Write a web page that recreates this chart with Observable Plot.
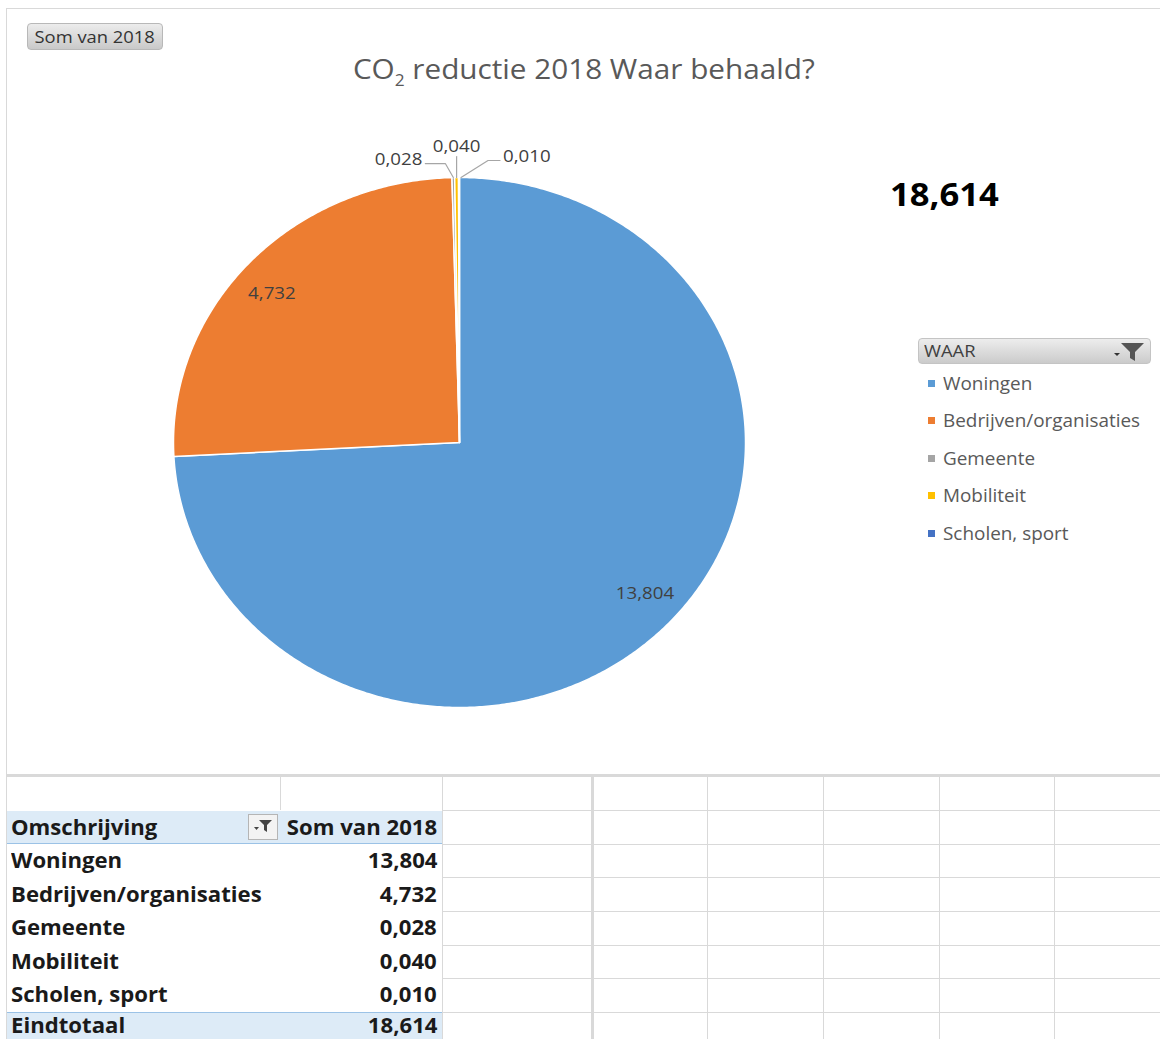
<!DOCTYPE html>
<html><head><meta charset="utf-8">
<script src="https://cdn.jsdelivr.net/npm/d3@7"></script>
<script src="https://cdn.jsdelivr.net/npm/@observablehq/plot@0.6"></script>
<style>
body{margin:0;background:#fff;font-family:"Open Sans",sans-serif;}
#wrap{position:relative;width:1160px;height:1039px;overflow:hidden;background:#fff}
#frame{position:absolute;left:6px;top:8px;width:1160px;height:769px;border-top:1px solid #d9d9d9;border-left:1px solid #d9d9d9;border-bottom:3px solid #d9d9d9;box-sizing:border-box}
#chart{position:absolute;left:0;top:0}
.sx{display:inline-block;transform:scaleX(1.08);transform-origin:left center}
.sxr{display:inline-block;transform:scaleX(1.08);transform-origin:right center}
.sxc{display:inline-block;transform:scaleX(1.08);transform-origin:center center}
#somBtn{position:absolute;left:27px;top:23px;width:136px;height:27px;box-sizing:border-box;border:1px solid #b8b8b8;border-radius:4px;background:linear-gradient(#ececec,#c9c9c9);color:#333;font-size:17px;line-height:25px;text-align:center;}
#title{position:absolute;left:0;width:1168px;top:50px;text-align:center;color:#595959;font-size:27.5px;}
#title sub{font-size:16px;vertical-align:-7px;line-height:0}
#total{position:absolute;left:890px;top:172px;font-size:32px;font-weight:bold;color:#000;}
#fieldBtn{position:absolute;left:918px;top:338px;width:233px;height:26px;box-sizing:border-box;border:1px solid #c4c4c4;border-radius:4px;background:linear-gradient(#ededed,#cbcbcb);color:#404040;font-size:17px;line-height:24px;padding-left:5px}
#legend .item{position:absolute;left:928px;font-size:17.5px;color:#595959;line-height:20px;white-space:nowrap}
#legend .sw{display:inline-block;width:7px;height:7px;margin-right:8px;vertical-align:3px}
.hl{position:absolute;height:1px;background:#d9d9d9}
.vl{position:absolute;width:1px;background:#d9d9d9}
.cell{position:absolute;font-weight:bold;color:#1a1a1a;font-size:20.5px;white-space:nowrap;line-height:33px}
</style></head><body>
<div id="wrap">
 <div id="frame"></div>
 <div id="chart"></div>
 <div id="somBtn"><span class="sxc">Som van 2018</span></div>
 <div id="title"><span class="sxc">CO<sub>2</sub> reductie 2018 Waar behaald?</span></div>
 <div id="total"></div>
 <div id="fieldBtn"><span class="sx" id="fieldName"></span><svg style="position:absolute;right:4px;top:2px" width="34" height="22" viewBox="0 0 34 22"><path d="M2 12 h6 l-3 3z" fill="#333"/><path d="M9 2 h23 l-9 9 v9 l-5 -3 v-6z" fill="#555"/></svg></div>
 <div id="legend"></div>
 <div id="sheet"></div>
</div>
<script>
// ---- data ----
const categories = ["Woningen", "Bedrijven/organisaties", "Gemeente", "Mobiliteit", "Scholen, sport"];
const values = [13.804, 4.732, 0.028, 0.040, 0.010];
const colors = ["#5B9BD5", "#ED7D31", "#A5A5A5", "#FFC000", "#4472C4"];
const fieldName = "WAAR";
const rowHeader = "Omschrijving";
const valueHeader = "Som van 2018";
const totalLabel = "Eindtotaal";

const nl = d3.formatLocale({decimal: ",", thousands: ".", grouping: [3], currency: ["€", ""]});
const fmt = nl.format(".3f");
const total = d3.sum(values);

const rows = categories.map((name, i) => ({name, value: values[i], color: colors[i]}));
const arcs = d3.pie().sort(null).value(d => d.value)(rows);

// pie geometry (ellipse as in the stretched screenshot)
const cx = 459, cy = 442, rx = 286, ry = 265;
const px2x = dx => dx / rx, px2y = dy => -dy / ry;

const slices = arcs.map(a => {
  const n = Math.max(2, Math.ceil((a.endAngle - a.startAngle) / (Math.PI / 360)));
  const pts = [{x: 0, y: 0}];
  for (let k = 0; k <= n; k++) {
    const t = a.startAngle + (a.endAngle - a.startAngle) * k / n;
    pts.push({x: Math.sin(t), y: Math.cos(t)});
  }
  return pts;
});

const mid = a => (a.startAngle + a.endAngle) / 2;
const big = arcs.filter(a => a.value / total > 0.05);
const small = arcs.filter(a => a.value / total <= 0.05);

// "best fit" inside labels, slightly rotated as Excel places them
const labelR = 0.863, labelRot = -2.2 * Math.PI / 180;
const insideLabels = big.map(a => ({x: labelR * Math.sin(mid(a) + labelRot), y: labelR * Math.cos(mid(a) + labelRot), text: fmt(a.value)}));

// outside labels with leader lines for the tiny slices (spread left / up / right)
const spread = [
  {tx: -31, ty: -18, anchor: "end", path: [[0, 0], [-8, -14], [-28, -14]]},
  {tx: 0, ty: -31, anchor: "middle", path: [[0, 0], [0, -21]]},
  {tx: 44, ty: -21, anchor: "start", path: [[2, 0], [29, -17], [41, -17]]}
];
const outsideLabels = [], leaders = [];
small.forEach((a, i) => {
  const s = spread[i % spread.length];
  const ex = Math.sin(mid(a)), ey = Math.cos(mid(a));
  outsideLabels.push({x: ex + px2x(s.tx), y: ey + px2y(s.ty), text: fmt(a.value), anchor: s.anchor});
  s.path.forEach(([dx, dy]) => leaders.push({x: ex + px2x(dx), y: ey + px2y(dy), id: i}));
});

const plot = Plot.plot({
  width: 1160, height: 776, margin: 0,
  x: {domain: [-1, 1], range: [cx - rx, cx + rx], axis: null},
  y: {domain: [-1, 1], range: [cy + ry, cy - ry], axis: null},
  style: {background: "transparent", fontFamily: "Open Sans, sans-serif", overflow: "visible"},
  marks: [
    ...slices.map((pts, i) => Plot.line(pts, {x: "x", y: "y", fill: colors[i], stroke: "#fff", strokeWidth: 1.5, curve: "linear-closed"})),
    Plot.text(insideLabels, {x: "x", y: "y", text: "text", fontSize: 17, fill: "#404040"}),
    Plot.line(leaders, {x: "x", y: "y", z: "id", stroke: "#a6a6a6", strokeWidth: 1.2}),
    ...["start", "middle", "end"].map(anc => Plot.text(outsideLabels.filter(d => d.anchor === anc), {x: "x", y: "y", text: "text", textAnchor: anc, fontSize: 17, fill: "#404040"}))
  ]
});
document.getElementById("chart").appendChild(plot);
// horizontal stretch of the label glyphs (as in the stretched reference rendering)
plot.querySelectorAll("text").forEach(t => {
  const w = t.getComputedTextLength();
  if (w > 0) { t.setAttribute("textLength", (w * 1.1).toFixed(2)); t.setAttribute("lengthAdjust", "spacingAndGlyphs"); }
});
document.getElementById("total").innerHTML = `<span class="sx">${fmt(total)}</span>`;
document.getElementById("fieldName").textContent = fieldName;

// legend
const legend = document.getElementById("legend");
const legendTop = 372.5, legendStep = 37.5;
rows.forEach((r, i) => {
  const d = document.createElement("div");
  d.className = "item";
  d.style.top = (legendTop + i * legendStep) + "px";
  d.innerHTML = `<span class="sw" style="background:${r.color}"></span><span class="sx">${r.name}</span>`;
  legend.appendChild(d);
});

// spreadsheet below
const sheet = document.getElementById("sheet");
const colX = [6, 280, 442, 592, 707, 823, 939, 1054];
const rowY = [776, 810, 844, 877, 911, 945, 978, 1012];
const add = (cls, style, html) => { const e = document.createElement("div"); e.className = cls; Object.assign(e.style, style); if (html != null) e.innerHTML = html; sheet.appendChild(e); return e; };
rowY.forEach((y, i) => { if (i > 0) add("hl", {left: "442px", top: y + "px", width: "720px"}); });
colX.forEach((x, i) => {
  if (i === 1) add("vl", {left: x + "px", top: "777px", height: "33px"});
  else if (i === 3) add("vl", {left: (x - 1) + "px", top: "777px", height: "270px", width: "3px"});
  else add("vl", {left: x + "px", top: "777px", height: "270px"});
});
// pivot table
const tL = 7, tR = 442, rh = 33.6;
const L = t => `<span class="sx">${t}</span>`, R = t => `<span class="sxr">${t}</span>`;
add("", {position: "absolute", left: tL + "px", top: "811px", width: (tR - tL) + "px", height: "33px", background: "#DDEBF7", borderBottom: "1px solid #9BC2E6", boxSizing: "border-box"});
add("cell", {left: "11px", top: "811px"}, L(rowHeader));
add("cell", {left: "280px", top: "811px", width: "157px", textAlign: "right"}, R(valueHeader));
add("", {position: "absolute", left: "248px", top: "814px", width: "30px", height: "26px", border: "1px solid #b5b5b5", boxSizing: "border-box", background: "#f3f3f3"},
  '<svg width="28" height="24" viewBox="0 0 28 24"><path d="M5 12 h5 l-2.5 3z" fill="#444"/><path d="M10 5 h13 l-5 5 v7 l-3 -2 v-5z" fill="#444"/></svg>');
rows.forEach((r, i) => {
  const y = 844 + i * rh;
  add("cell", {left: "11px", top: y + "px"}, L(r.name));
  add("cell", {left: "280px", top: y + "px", width: "157px", textAlign: "right"}, R(fmt(r.value)));
});
add("", {position: "absolute", left: tL + "px", top: "1012px", width: (tR - tL) + "px", height: "40px", background: "#DDEBF7", borderTop: "1px solid #9BC2E6", boxSizing: "border-box"});
add("cell", {left: "11px", top: "1009px"}, L(totalLabel));
add("cell", {left: "280px", top: "1009px", width: "157px", textAlign: "right"}, R(fmt(total)));
</script>
</body></html>
